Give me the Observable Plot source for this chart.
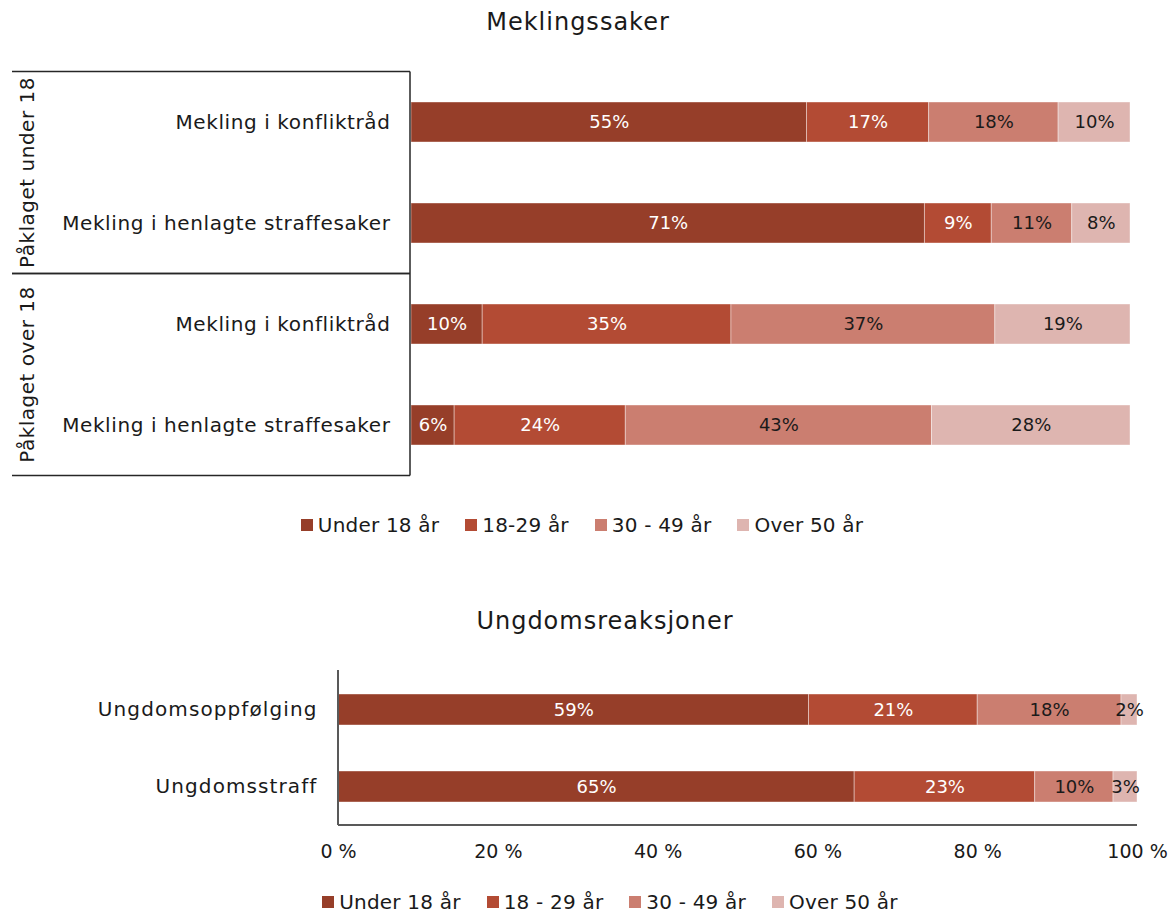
<!DOCTYPE html>
<html>
<head>
<meta charset="utf-8">
<script src="https://cdn.jsdelivr.net/npm/d3@7"></script>
<script src="https://cdn.jsdelivr.net/npm/@observablehq/plot@0.6"></script>
<style>
  html, body { margin: 0; padding: 0; background: #fff; }
  #root { position: relative; width: 1172px; height: 913px; font-family: "DejaVu Sans", sans-serif; color: #1a1a1a; overflow: hidden; }
  .title { position: absolute; text-align: center; font-size: 24px; line-height: 28px; letter-spacing: 1px; }
  .legend { position: absolute; display: flex; justify-content: center; align-items: center; font-size: 20px; line-height: 26px; white-space: nowrap; letter-spacing: 0.2px; }
  .legend .item { display: flex; align-items: center; margin: 0 13px; }
  .legend .sw { width: 12px; height: 12px; margin-right: 5px; }
  .panel { position: absolute; left: 0; }
</style>
</head>
<body>
<div id="root"></div>
<script>
// ---------- data ----------
const seriesTop = ["Under 18 år", "18-29 år", "30 - 49 år", "Over 50 år"];
const seriesBottom = ["Under 18 år", "18 - 29 år", "30 - 49 år", "Over 50 år"];
const colors = ["#963e29", "#b34b34", "#cb7e70", "#deb5b0"];

const mekTitle = "Meklingssaker";
const mekGroups = ["Påklaget under 18", "Påklaget under 18", "Påklaget over 18", "Påklaget over 18"];
const mekCategories = ["Mekling i konfliktråd", "Mekling i henlagte straffesaker", "Mekling i konfliktråd", "Mekling i henlagte straffesaker"];
const mekUnder18 = [55, 71.4, 9.9, 6.0];
const mek18to29 = [17, 9.3, 34.6, 23.8];
const mek30to49 = [18, 11.2, 36.7, 42.6];
const mekOver50 = [10, 8.1, 18.8, 27.6];

const ungTitle = "Ungdomsreaksjoner";
const ungCategories = ["Ungdomsoppfølging", "Ungdomsstraff"];
const ungUnder18 = [58.9, 64.6];
const ung18to29 = [21.1, 22.6];
const ung30to49 = [18.0, 9.8];
const ungOver50 = [2.0, 3.0];
const xTicks = [0, 20, 40, 60, 80, 100];

// ---------- build tables ----------
function table(seriesNames, cols) {
  const rows = [];
  const n = cols[0].length;
  for (let r = 0; r < n; r++) {
    cols.forEach((col, s) => rows.push({row: String(r), series: seriesNames[s], si: s, value: col[r]}));
  }
  return rows;
}
const mekData = table(seriesTop, [mekUnder18, mek18to29, mek30to49, mekOver50]);
const ungData = table(seriesBottom, [ungUnder18, ung18to29, ung30to49, ungOver50]);

const FONT = '"DejaVu Sans", sans-serif';
const root = document.getElementById("root");

function addTitle(text, center, top) {
  const d = document.createElement("div");
  d.className = "title";
  d.textContent = text;
  d.style.left = (center - 300) + "px";
  d.style.width = "600px";
  d.style.top = top + "px";
  root.appendChild(d);
}
function addLegend(names, center, top) {
  const d = document.createElement("div");
  d.className = "legend";
  d.style.left = (center - 450) + "px";
  d.style.width = "900px";
  d.style.top = top + "px";
  names.forEach((n, i) => {
    const it = document.createElement("div");
    it.className = "item";
    const sw = document.createElement("span");
    sw.className = "sw";
    sw.style.background = colors[i];
    const t = document.createElement("span");
    t.textContent = n;
    it.appendChild(sw); it.appendChild(t);
    d.appendChild(it);
  });
  root.appendChild(d);
}

function barMarks(data, fontSize) {
  const fmt = d => Math.round(d.value) + "%";
  return [
    Plot.barX(data, Plot.stackX({x: "value", y: "row", fill: "series", stroke: "#fff", strokeOpacity: 0.5, strokeWidth: 0.8})),
    Plot.text(data, Plot.stackX({x: "value", y: "row", text: d => d.si < 2 ? fmt(d) : null, fill: "#fff", fontSize})),
    Plot.text(data, Plot.stackX({x: "value", y: "row", text: d => d.si >= 2 ? fmt(d) : null, fill: "#1a1a1a", fontSize}))
  ];
}
function styleYLabels(plot, size, spacing) {
  d3.select(plot).selectAll('[aria-label="y-axis tick label"] text')
    .style("font-size", size + "px").style("letter-spacing", spacing + "px");
}

// ---------- top panel ----------
addTitle(mekTitle, 578, 8);
const topPlot = Plot.plot({
  width: 1172, height: 460,
  marginLeft: 411, marginRight: 42, marginTop: 31, marginBottom: 24,
  style: {fontFamily: FONT, fontSize: "20px", color: "#1a1a1a", background: "transparent"},
  x: {domain: [0, 100], axis: null},
  y: {domain: mekCategories.map((_, i) => String(i)), paddingInner: 0.6, paddingOuter: 0.3,
      tickFormat: i => mekCategories[+i], tickSize: 0, tickPadding: 21, label: null},
  color: {domain: seriesTop, range: colors},
  marks: barMarks(mekData, 18)
});
styleYLabels(topPlot, 20, 0.6);
const topWrap = document.createElement("div");
topWrap.className = "panel";
topWrap.style.top = "40px";
topWrap.appendChild(topPlot);
root.appendChild(topWrap);

// grouped category bracket drawn from the plot's own scales
(function () {
  const ys = topPlot.scale("y");
  const xs = topPlot.scale("x");
  const svg = d3.select(topPlot);
  const gap = ys.step - ys.bandwidth;
  const x0 = xs.range[0] - 1;
  const groups = Array.from(new Set(mekGroups));
  const g = svg.append("g").attr("stroke", "#262626").attr("stroke-width", 1.5);
  let yTop = Infinity, yBot = -Infinity;
  groups.forEach(grp => {
    const idx = mekGroups.map((gname, i) => gname === grp ? i : -1).filter(i => i >= 0);
    const a = ys.apply(String(idx[0])) - gap / 2;
    const b = ys.apply(String(idx[idx.length - 1])) + ys.bandwidth + gap / 2;
    yTop = Math.min(yTop, a); yBot = Math.max(yBot, b);
    g.append("line").attr("x1", 12).attr("x2", x0).attr("y1", a).attr("y2", a);
    g.append("line").attr("x1", 12).attr("x2", x0).attr("y1", b).attr("y2", b);
    svg.append("text")
      .attr("transform", `translate(27,${(a + b) / 2}) rotate(-90)`)
      .attr("text-anchor", "middle").attr("dy", "0.35em")
      .attr("font-size", 20).style("letter-spacing", "0.5px").attr("fill", "#1a1a1a")
      .text(grp);
  });
  g.append("line").attr("x1", x0).attr("x2", x0).attr("y1", yTop).attr("y2", yBot);
})();

addLegend(seriesTop, 582, 512);

// ---------- bottom panel ----------
addTitle(ungTitle, 605, 607);
const botPlot = Plot.plot({
  width: 1172, height: 240,
  marginLeft: 338, marginRight: 35, marginTop: 30, marginBottom: 55,
  style: {fontFamily: FONT, fontSize: "19px", color: "#1a1a1a", background: "transparent"},
  x: {domain: [0, 100], ticks: xTicks, tickFormat: d => d + " %", tickSize: 0, tickPadding: 19, label: null},
  y: {domain: ungCategories.map((_, i) => String(i)), paddingInner: 0.6, paddingOuter: 0.3,
      tickFormat: i => ungCategories[+i], tickSize: 0, tickPadding: 21, label: null},
  color: {domain: seriesBottom, range: colors},
  marks: barMarks(ungData, 18)
});
styleYLabels(botPlot, 20, 1.1);
const botWrap = document.createElement("div");
botWrap.className = "panel";
botWrap.style.top = "640px";
botWrap.appendChild(botPlot);
root.appendChild(botWrap);

(function () {
  const ys = botPlot.scale("y");
  const xs = botPlot.scale("x");
  const svg = d3.select(botPlot);
  const [r0, r1] = ys.range;
  const g = svg.append("g").attr("stroke", "#595959").attr("stroke-width", 2);
  g.append("line").attr("x1", xs.range[0]).attr("x2", xs.range[0]).attr("y1", r0).attr("y2", r1);
  g.append("line").attr("x1", xs.range[0]).attr("x2", xs.range[1]).attr("y1", r1).attr("y2", r1);
})();

addLegend(seriesBottom, 610, 889);
</script>
</body>
</html>
